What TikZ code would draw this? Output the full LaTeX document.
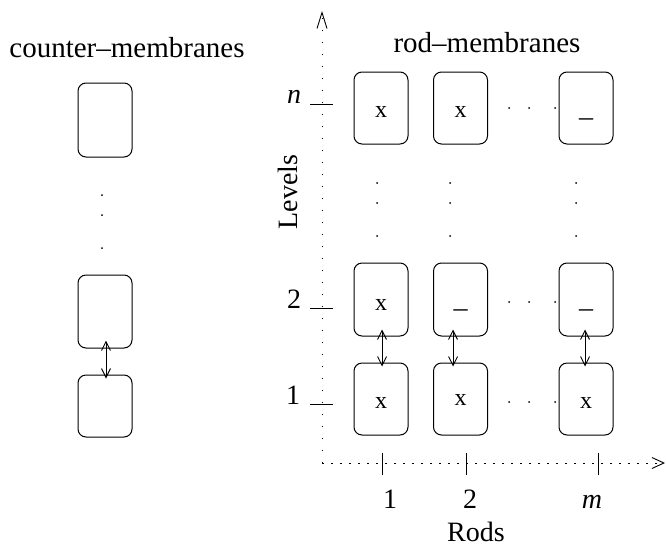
\documentclass[tikz,border=0pt]{standalone}
\usepackage{fontspec}
\setmainfont{Liberation Serif}
\usetikzlibrary{arrows.meta}
\newcommand\myfs[1]{\fontsize{#1}{#1}\selectfont}
\begin{document}
\begin{tikzpicture}[x=1pt,y=-1pt,
  mbox/.style={draw,rounded corners=8pt,line width=1pt,minimum width=54pt,minimum height=73pt,inner sep=0pt},
  btext/.style={inner sep=0pt,font=\myfs{24}},
  utext/.style={inner sep=0pt,font=\myfs{28},anchor=base},
  lab/.style={inner sep=0pt,font=\myfs{28},anchor=base},
  title/.style={inner sep=0pt,font=\myfs{29},anchor=base},
  dbl/.style={line width=0.9pt,{Straight Barb[length=9pt,width=9pt]}-{Straight Barb[length=9pt,width=9pt]}},
  axis/.style={line width=0.9pt},
  dotpt/.style={fill=black}
]
\useasboundingbox (0,0) rectangle (666,549);
% titles
\node[title] (tc) at (127,57) {counter–membranes};
\node[title] (tr) at (487,52) {rod–membranes};
% counter boxes
\node[mbox,minimum height=74pt] (c1) at (105,120) {};
\node[mbox] (c2) at (105,311.5) {};
\node[mbox,minimum height=62pt] (c3) at (105,406) {};
\fill[dotpt] (102,195) circle (1pt);
\fill[dotpt] (102,215) circle (1pt);
\fill[dotpt] (102,248) circle (1pt);
\draw[dbl] ([xshift=1pt,yshift=8pt]c2.south) -- ([xshift=1pt,yshift=-4pt]c3.north);
% axes
\coordinate (O) at (322,463);
\coordinate (Ytop) at (322,11);
\coordinate (Xend) at (665,463);
\draw[axis,dash pattern=on 1.3pt off 10.7pt,-{Straight Barb[length=16pt,width=10pt]}] (O) -- (Ytop);
\draw[axis,dash pattern=on 2pt off 7pt,-{Straight Barb[length=12pt,width=11pt]}] (O) -- (Xend);
% y ticks
\draw[axis] (310,104) coordinate (tn1) -- (333,104) coordinate (tn2);
\draw[axis] (310,308) coordinate (t21) -- (333,308) coordinate (t22);
\draw[axis] (310,404) coordinate (t11) -- (333,404) coordinate (t12);
\node[lab] (ln) at (294,103) {\itshape n};
\node[lab] (l2) at (294,308) {2};
\node[lab] (l1) at (293,404) {1};
\node[inner sep=0pt,font=\myfs{28},rotate=90,anchor=base] (lev) at (297,192) {Levels};
% x ticks
\draw[axis] (382,453) coordinate (x11) -- (382,475) coordinate (x12);
\draw[axis] (466,453) coordinate (x21) -- (466,475) coordinate (x22);
\draw[axis] (598,453) coordinate (xm1) -- (598,475) coordinate (xm2);
\node[lab] (lx1) at (390,508) {1};
\node[lab] (lx2) at (470,508) {2};
\node[lab] (lxm) at (592,508) {\itshape m};
\node[inner sep=0pt,font=\myfs{28},anchor=base] (rods) at (476,541) {Rods};
% rod boxes
\node[mbox,minimum height=72pt] (rnc1) at (381,108) {};
\node[mbox,minimum height=72pt] (rnc2) at (460.5,108) {};
\node[mbox,minimum height=72pt] (rncm) at (586,108) {};
\node[mbox] (r2c1) at (381,299.5) {};
\node[mbox] (r2c2) at (460.5,299.5) {};
\node[mbox] (r2cm) at (586,299.5) {};
\node[mbox,minimum height=72pt] (r1c1) at (381,399) {};
\node[mbox,minimum height=72pt] (r1c2) at (460.5,399) {};
\node[mbox,minimum height=72pt] (r1cm) at (586,399) {};
% box contents
\node[btext] at ([yshift=-4pt]rnc1.center) {x};
\node[btext] at ([yshift=-4pt]rnc2.center) {x};
\node[utext] at ([yshift=-8pt]rncm.center) {\textunderscore};
\node[btext] at ([yshift=-5pt]r2c1.center) {x};
\node[utext] at ([yshift=-8pt]r2c2.center) {\textunderscore};
\node[utext] at ([yshift=-8pt]r2cm.center) {\textunderscore};
\node[btext] at ([yshift=-4pt]r1c1.center) {x};
\node[btext] at ([yshift=-1pt]r1c2.center) {x};
\node[btext] at ([yshift=-4pt]r1cm.center) {x};
% horizontal dots
\foreach \yy in {108,302,402}{
  \fill[dotpt] (509,\yy) circle (1pt);
  \fill[dotpt] (529,\yy) circle (1pt);
  \fill[dotpt] (555,\yy) circle (1pt);
}
% vertical dots
\foreach \xx in {377,450,576}{
  \fill[dotpt] (\xx,183) circle (1pt);
  \fill[dotpt] (\xx,203) circle (1pt);
  \fill[dotpt] (\xx,236) circle (1pt);
}
% arrows between levels
\draw[dbl] ([xshift=1pt,yshift=7pt]r2c1.south) -- ([xshift=1pt,yshift=-4pt]r1c1.north);
\draw[dbl] ([xshift=-7.5pt,yshift=7pt]r2c2.south) -- ([xshift=-7.5pt,yshift=-4pt]r1c2.north);
\draw[dbl] ([xshift=-1pt,yshift=7pt]r2cm.south) -- ([xshift=-1pt,yshift=-4pt]r1cm.north);
\end{tikzpicture}
\end{document}
